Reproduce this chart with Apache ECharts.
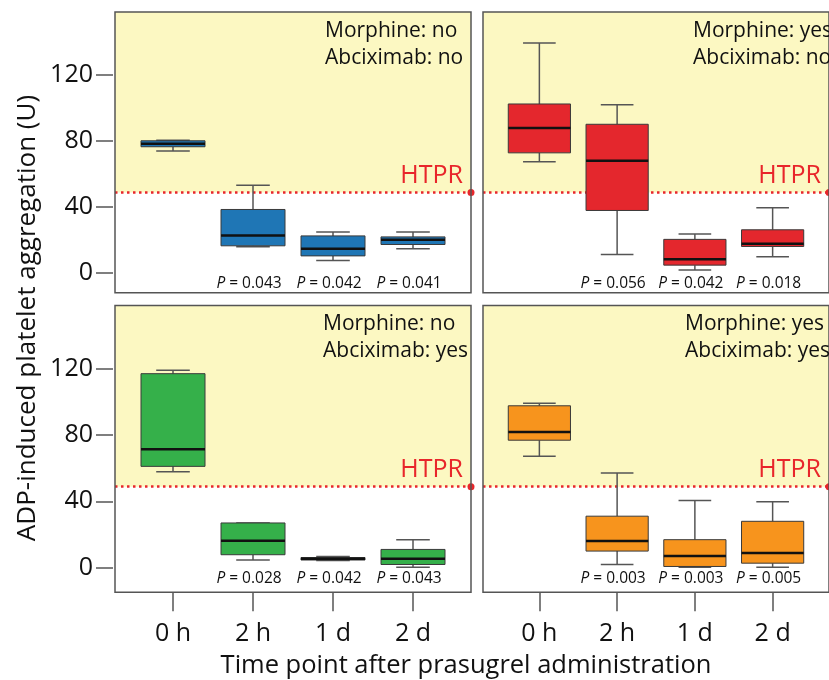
<!DOCTYPE html>
<html>
<head>
<meta charset="utf-8">
<script src="https://cdn.jsdelivr.net/npm/echarts@6/dist/echarts.min.js"></script>
<style>
html,body{margin:0;padding:0;background:#fff;}
#chart{width:829px;height:680px;}
</style>
</head>
<body>
<div id="chart"></div>
<script>
// ---------- data ----------
const categories = ['0 h', '2 h', '1 d', '2 d'];
const yTickValues = [0, 40, 80, 120];
const htpr = 48.8;

// each box: [min, Q1, median, Q3, max]
const morphNoAbcixNo = [
  [73.9, 76.5, 78.3, 80.1, 80.4],
  [15.9, 16.5, 22.8, 38.5, 53.1],
  [7.6, 10.4, 14.7, 22.5, 24.8],
  [14.7, 17.3, 20.1, 21.9, 24.8]
];
const morphYesAbcixNo = [
  [67.4, 72.8, 87.8, 102.4, 139.3],
  [11.3, 37.9, 68.0, 90.1, 101.9],
  [1.8, 4.8, 8.4, 20.4, 23.6],
  [9.8, 16.1, 17.7, 26.2, 39.5]
];
const morphNoAbcixYes = [
  [57.9, 61.1, 71.4, 117.1, 119.2],
  [4.5, 7.7, 16.2, 26.9, 26.9],
  [4.2, 4.5, 5.2, 6.0, 6.6],
  [0.2, 1.8, 5.2, 10.9, 16.8]
];
const morphYesAbcixYes = [
  [67.2, 76.9, 81.9, 97.7, 99.2],
  [1.8, 9.9, 16.0, 31.0, 57.1],
  [0.2, 0.6, 6.9, 16.8, 40.5],
  [0.2, 2.6, 8.7, 27.9, 39.7]
];

const pTopLeft = ['', '0.043', '0.042', '0.041'];
const pTopRight = ['', '0.056', '0.042', '0.018'];
const pBottomLeft = ['', '0.028', '0.042', '0.043'];
const pBottomRight = ['', '0.003', '0.003', '0.005'];

const panelLabels = ['Morphine: no\nAbciximab: no', 'Morphine: yes\nAbciximab: no',
                     'Morphine: no\nAbciximab: yes', 'Morphine: yes\nAbciximab: yes'];

// ---------- styling ----------
const FONT = '"Open Sans", "Noto Sans", sans-serif';
const TEXT = '#111111';
const boxColors = ['#1f76b5', '#e4272d', '#35b04a', '#f7941d'];
const red = '#e8262b';
const yellow = '#fcf8c2';
const frame = '#555555';

const panels = [
  { data: morphNoAbcixNo, p: pTopLeft, grid: { left: 115, top: 12, width: 356, height: 280.7 }, y: [-11.9, 158.1], yLabels: true, xLabels: false, text: { left: 325, top: 17 } },
  { data: morphYesAbcixNo, p: pTopRight, grid: { left: 483, top: 12, width: 356, height: 280.7 }, y: [-11.9, 158.1], yLabels: false, xLabels: false, text: { left: 693, top: 17 } },
  { data: morphNoAbcixYes, p: pBottomLeft, grid: { left: 115, top: 305.5, width: 356, height: 286.8 }, y: [-15.0, 158.3], yLabels: true, xLabels: true, text: { left: 323, top: 310 } },
  { data: morphYesAbcixYes, p: pBottomRight, grid: { left: 483, top: 305.5, width: 356, height: 286.8 }, y: [-15.0, 158.3], yLabels: false, xLabels: true, text: { left: 685, top: 310 } }
];

function makeRender(color, pLabels) {
  return function (params, api) {
    const x = api.value(0);
    const pMin = api.coord([x, api.value(1)]);
    const pQ1 = api.coord([x, api.value(2)]);
    const pMed = api.coord([x, api.value(3)]);
    const pQ3 = api.coord([x, api.value(4)]);
    const pMax = api.coord([x, api.value(5)]);
    const bw = api.size([0.8, 0])[0];
    const cw = api.size([0.42, 0])[0];
    const cx = pMed[0];
    const wl = { stroke: '#555', lineWidth: 1.5 };
    const children = [
      { type: 'line', shape: { x1: cx, y1: pMax[1], x2: cx, y2: pQ3[1] }, style: wl },
      { type: 'line', shape: { x1: cx, y1: pQ1[1], x2: cx, y2: pMin[1] }, style: wl },
      { type: 'line', shape: { x1: cx - cw / 2, y1: pMax[1], x2: cx + cw / 2, y2: pMax[1] }, style: wl },
      { type: 'line', shape: { x1: cx - cw / 2, y1: pMin[1], x2: cx + cw / 2, y2: pMin[1] }, style: wl },
      { type: 'rect', shape: { x: cx - bw / 2, y: pQ3[1], width: bw, height: pQ1[1] - pQ3[1] },
        style: { fill: color, stroke: '#3a3a3a', lineWidth: 1 } },
      { type: 'line', shape: { x1: cx - bw / 2, y1: pMed[1], x2: cx + bw / 2, y2: pMed[1] },
        style: { stroke: '#111', lineWidth: 2.5 } }
    ];
    const p = pLabels[params.dataIndex];
    if (p) {
      const base = api.coord([x, 0]);
      children.push({
        type: 'text', x: cx - 4, y: base[1] + 11,
        style: {
          text: '{i|P}{n| = ' + p + '}',
          align: 'center', verticalAlign: 'middle',
          rich: {
            i: { fontStyle: 'italic', fontSize: 15.5, fontFamily: FONT, fill: TEXT, fontWeight: 400 },
            n: { fontSize: 15.5, fontFamily: FONT, fill: TEXT }
          }
        }
      });
    }
    return { type: 'group', children: children };
  };
}

const grid = [], xAxis = [], yAxis = [], series = [], graphic = [];

panels.forEach(function (pn, i) {
  grid.push(Object.assign({ show: true, borderColor: frame, borderWidth: 1.5, backgroundColor: 'transparent', z: 10 }, pn.grid));
  xAxis.push({
    type: 'value', gridIndex: i, min: 0.275, max: 4.725, position: 'bottom',
    splitLine: { show: false }, axisLine: { show: false, onZero: false },
    axisTick: { show: pn.xLabels, customValues: [1, 2, 3, 4], length: 19, lineStyle: { color: frame, width: 1.5 } },
    axisLabel: {
      show: pn.xLabels, customValues: [1, 2, 3, 4], margin: 29,
      formatter: function (v) { return categories[Math.round(v) - 1]; },
      fontSize: 25, fontFamily: FONT, color: TEXT
    }
  });
  yAxis.push({
    type: 'value', gridIndex: i, min: pn.y[0], max: pn.y[1], offset: 2, position: 'left',
    splitLine: { show: false }, axisLine: { show: false, onZero: false },
    axisTick: { show: pn.yLabels, customValues: yTickValues, length: 17, lineStyle: { color: frame, width: 1.5 } },
    axisLabel: { show: pn.yLabels, customValues: yTickValues, margin: 20, fontSize: 25, fontFamily: FONT, color: TEXT }
  });
  series.push({
    type: 'line', xAxisIndex: i, yAxisIndex: i, data: [], z: 1, silent: true,
    markArea: {
      silent: true, z: 1,
      itemStyle: { color: yellow },
      data: [[{ yAxis: htpr }, { yAxis: pn.y[1] }]]
    },
    markLine: {
      silent: true, z: 2, symbol: ['none', 'circle'], symbolSize: 7,
      lineStyle: { type: [2.5, 3.5], color: red, width: 2.5 },
      label: { show: true, position: 'insideEndTop', formatter: 'HTPR', color: red, fontSize: 25, fontFamily: FONT, distance: [8, 4] },
      data: [{ yAxis: htpr }]
    }
  });
  series.push({
    type: 'custom', xAxisIndex: i, yAxisIndex: i, z: 4,
    data: pn.data.map(function (d, k) { return [k + 1].concat(d); }),
    encode: { x: 0, y: [1, 2, 3, 4, 5] },
    renderItem: makeRender(boxColors[i], pn.p)
  });
  graphic.push({
    type: 'text', left: pn.text.left, top: pn.text.top, z: 20,
    style: { text: panelLabels[i], fontSize: 21, fontFamily: FONT, fill: TEXT, lineHeight: 27.5, align: 'left' }
  });
});

graphic.push({
  type: 'text', x: 27.5, y: 318, rotation: Math.PI / 2, z: 20,
  style: { text: 'ADP-induced platelet aggregation (U)', fontSize: 26, fontFamily: FONT, fill: TEXT, align: 'center', verticalAlign: 'middle' }
});
graphic.push({
  type: 'text', x: 466, y: 666, z: 20,
  style: { text: 'Time point after prasugrel administration', fontSize: 25.5, fontFamily: FONT, fill: TEXT, align: 'center', verticalAlign: 'middle' }
});

const chart = echarts.init(document.getElementById('chart'), null, { renderer: 'canvas' });
chart.setOption({
  animation: false,
  backgroundColor: '#ffffff',
  grid: grid, xAxis: xAxis, yAxis: yAxis, series: series, graphic: graphic
});
</script>
</body>
</html>
